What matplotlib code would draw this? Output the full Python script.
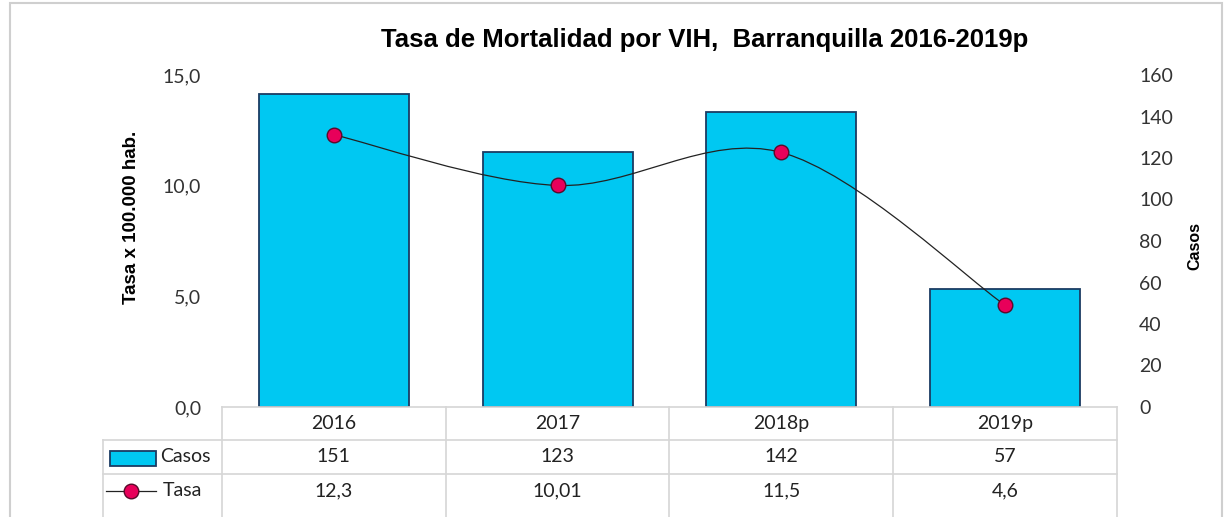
import numpy as np
import matplotlib.pyplot as plt
from matplotlib.path import Path
from matplotlib.patches import PathPatch, Rectangle
from matplotlib.lines import Line2D
import matplotlib.transforms as mtransforms

years = ['2016', '2017', '2018p', '2019p']
casos = [151, 123, 142, 57]
tasa = [12.3, 10.01, 11.5, 4.6]
tasa_txt = ['12,3', '10,01', '11,5', '4,6']

title = 'Tasa de Mortalidad por VIH,  Barranquilla 2016-2019p'
bar_col = '#00C8F2'
bar_edge = '#1B3C63'
dot_col = '#E8005A'
grid_col = '#D6D6D6'
tick_font = 'Lato'

W, H = 1230, 517
fig = plt.figure(figsize=(12.3, 5.17), dpi=100)

def fx(px):
    return px / W

def fy(py):
    return 1 - py / H

ax = fig.add_axes([fx(222), fy(407), fx(1117) - fx(222), fy(75) - fy(407)])
ax2 = ax.twinx()
ax.set_zorder(ax2.get_zorder() + 1)
ax.patch.set_visible(False)

x = np.arange(len(years))

# bars on right axis (Casos)
ax2.bar(x, casos, width=0.67, color=bar_col, edgecolor=bar_edge, linewidth=1.3, zorder=2)
ax2.set_ylim(0, 160)
ax2.set_yticks(np.arange(0, 161, 20))

# smooth line (Excel style bezier) on left axis (Tasa)
pts = np.column_stack([x, tasa]).astype(float)
verts = [pts[0]]
codes = [Path.MOVETO]
n = len(pts)
for i in range(n - 1):
    p0 = pts[max(i - 1, 0)]
    p1 = pts[i]
    p2 = pts[i + 1]
    p3 = pts[min(i + 2, n - 1)]
    c1 = p1 + (p2 - p0) / 6
    c2 = p2 - (p3 - p1) / 6
    verts += [c1, c2, p2]
    codes += [Path.CURVE4] * 3
ax.add_patch(PathPatch(Path(verts, codes), facecolor='none', edgecolor='#222222', lw=0.9, zorder=3))
ax.plot(x, tasa, ls='none', marker='o', ms=10.5, mfc=dot_col, mec='#5A0A2A', mew=1.0, zorder=4)
ax.set_ylim(0, 15)
ax.set_yticks([0, 5, 10, 15])
ax.set_yticklabels(['0,0', '5,0', '10,0', '15,0'])
ax.set_xlim(-0.5, len(years) - 0.5)
ax.set_xticks([])

for a in (ax, ax2):
    for s in a.spines.values():
        s.set_visible(False)
    a.tick_params(length=0, labelsize=14, colors='#333333')
    for lab in a.get_yticklabels():
        lab.set_family(tick_font)
ax.tick_params(axis='y', pad=15)
ax2.tick_params(axis='y', pad=16)

fig.text(fx(132), fy(217), 'Tasa x 100.000 hab.', rotation=90, ha='center', va='center',
         fontsize=13.5, fontweight='bold', family='Liberation Sans')
fig.text(fx(1195), fy(246), 'Casos', rotation=90, ha='center', va='center',
         fontsize=11.5, fontweight='bold', family='Liberation Sans')
fig.text(fx(705), fy(40), title, ha='center', va='center', fontsize=18.5,
         fontweight='bold', family='Liberation Sans')

# data table below the plot
trans = mtransforms.blended_transform_factory(ax.transData, fig.transFigure)
x_left = -0.5
x_lab = -0.5 - (222 - 103) / ((1117 - 222) / len(years))
x_right = len(years) - 0.5
rows = [407, 440, 474, 508]
y_bot = fy(520)

def hline(x0, x1, py):
    fig.add_artist(Line2D([x0, x1], [fy(py), fy(py)], transform=trans, color=grid_col, lw=1.2))

def vline(xv, py0, y1):
    fig.add_artist(Line2D([xv, xv], [fy(py0), y1], transform=trans, color=grid_col, lw=1.2))

hline(x_left, x_right, rows[0])
hline(x_lab, x_right, rows[1])
hline(x_lab, x_right, rows[2])
vline(x_lab, rows[1], y_bot)
for i in range(len(years) + 1):
    vline(x_left + i, rows[0], y_bot)

def cy(r):
    return fy((rows[r] + rows[r + 1]) / 2)

for i, yr in enumerate(years):
    fig.text(i, cy(0), yr, transform=trans, ha='center', va='center', fontsize=14,
             family=tick_font, color='#222222')
    fig.text(i, cy(1), str(casos[i]), transform=trans, ha='center', va='center', fontsize=14,
             family=tick_font, color='#222222')
    fig.text(i, cy(2), tasa_txt[i], transform=trans, ha='center', va='center', fontsize=14,
             family=tick_font, color='#222222')

# legend keys in the table
fig.add_artist(Rectangle((fx(110), fy(466)), fx(156) - fx(110), fy(451) - fy(466),
                         transform=fig.transFigure, facecolor=bar_col, edgecolor=bar_edge, lw=1.3))
fig.text(fx(160), cy(1), 'Casos', ha='left', va='center', fontsize=14, family=tick_font, color='#222222')
fig.add_artist(Line2D([fx(106), fx(156)], [cy(2), cy(2)], transform=fig.transFigure,
                      color='#222222', lw=0.9))
fig.add_artist(Line2D([fx(131)], [cy(2)], transform=fig.transFigure, ls='none', marker='o',
                      ms=10.5, mfc=dot_col, mec='#5A0A2A', mew=1.0))
fig.text(fx(163), cy(2), 'Tasa', ha='left', va='center', fontsize=14, family=tick_font, color='#222222')

# outer chart frame
fig.add_artist(Rectangle((fx(10), fy(530)), fx(1222) - fx(10), fy(3) - fy(530),
                         transform=fig.transFigure, facecolor='none', edgecolor='#CFCFCF', lw=1.5))

fig.savefig('out.png', dpi=100)
